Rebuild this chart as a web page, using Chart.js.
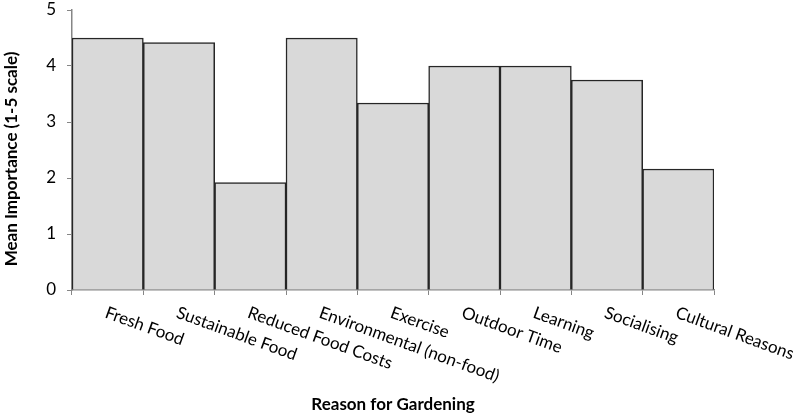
<!DOCTYPE html>
<html>
<head>
<meta charset="utf-8">
<script src="https://cdn.jsdelivr.net/npm/chart.js@4"></script>
<style>
  html, body { margin: 0; padding: 0; background: #fff; }
  #wrap { width: 793px; height: 416px; }
</style>
</head>
<body>
<div id="wrap"><canvas id="chart"></canvas></div>
<script>
// data
const reasons = ["Fresh Food", "Sustainable Food", "Reduced Food Costs", "Environmental (non-food)",
  "Exercise", "Outdoor Time", "Learning", "Socialising", "Cultural Reasons"];
const meanImportance = [4.5, 4.42, 1.92, 4.5, 3.34, 4.0, 4.0, 3.75, 2.16];
const yTicks = [0, 1, 2, 3, 4, 5];
const yTitle = "Mean Importance (1-5 scale)";

const FONT = "Lato, 'Open Sans', sans-serif";
const AXIS_GREY = "#868686";

// x labels slant down to the right from each category centre; y title sits a bit below centre
const axisText = {
  id: "axisText",
  afterDraw(chart) {
    const x = chart.scales.x;
    const y = chart.scales.y;
    const ctx = chart.ctx;
    ctx.save();
    ctx.font = "17px " + FONT;
    ctx.fillStyle = "#000";
    ctx.textAlign = "left";
    ctx.textBaseline = "top";
    reasons.forEach((lbl, i) => {
      const px = x.getPixelForTick(i);
      ctx.save();
      ctx.translate(px + 1, x.top + 14);
      ctx.rotate(20 * Math.PI / 180);
      ctx.fillText(lbl, 0, 0);
      ctx.restore();
    });

    ctx.font = "bold 17px " + FONT;
    ctx.textAlign = "center";
    ctx.textBaseline = "middle";
    ctx.translate(12, (y.top + y.bottom) / 2 + 9);
    ctx.rotate(-Math.PI / 2);
    ctx.fillText(yTitle, 0, 0);
    ctx.restore();
  }
};

new Chart(document.getElementById("chart"), {
  type: "bar",
  data: {
    labels: reasons,
    datasets: [{
      data: meanImportance,
      backgroundColor: "#d9d9d9",
      borderColor: "#262626",
      borderWidth: 1.5,
      categoryPercentage: 1,
      barPercentage: 1
    }]
  },
  options: {
    responsive: true,
    maintainAspectRatio: false,
    animation: false,
    layout: { padding: { top: 10, right: 79, left: 0, bottom: 0 } },
    plugins: { legend: { display: false }, tooltip: { enabled: false } },
    scales: {
      x: {
        afterFit(s) { s.height = 126; s.paddingLeft = 0; s.paddingRight = 0; },
        border: { color: AXIS_GREY, width: 1.5 },
        grid: { drawOnChartArea: false, drawTicks: true, tickLength: 5, color: AXIS_GREY, offset: true },
        ticks: { display: false },
        title: {
          display: true,
          text: "Reason for Gardening",
          color: "#000",
          font: { family: FONT, size: 17, weight: "bold" },
          padding: { top: 0, bottom: 1 }
        }
      },
      y: {
        min: 0,
        max: 5,
        afterFit(s) { s.width = 72; s.paddingTop = 0; s.paddingBottom = 0; },
        afterBuildTicks(s) { s.ticks = yTicks.map(v => ({ value: v })); },
        border: { color: AXIS_GREY, width: 1.5 },
        grid: { drawOnChartArea: false, drawTicks: true, tickLength: 5, color: AXIS_GREY },
        ticks: { color: "#000", padding: 11, font: { family: FONT, size: 17 } },
        title: { display: false }
      }
    }
  },
  plugins: [axisText]
});
</script>
</body>
</html>
